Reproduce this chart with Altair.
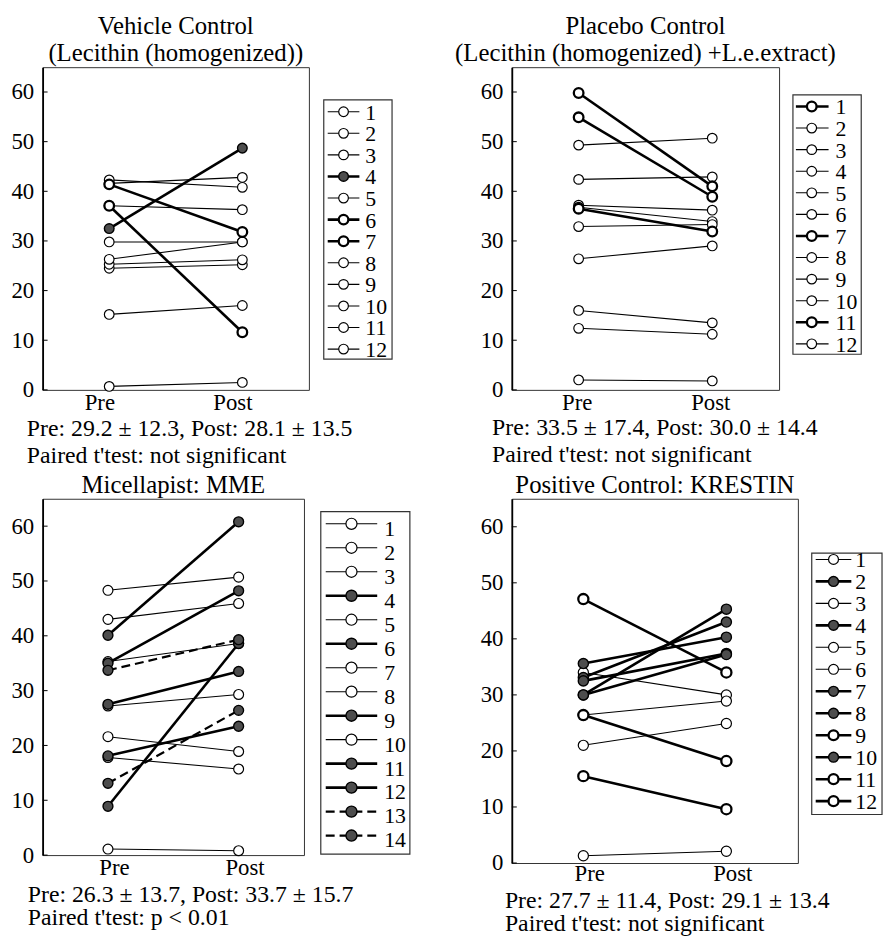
import altair as alt
import pandas as pd

FONT = "Liberation Serif"

# ---------------- data ----------------
YTICKS = [0, 10, 20, 30, 40, 50, 60]
STYLES = ["thin", "bold", "fill", "dash"]

p1_title = ["Vehicle Control", "(Lecithin (homogenized))"]
p1_pre = [0.7, 15.2, 24.5, 32.5, 25.3, 41.4, 37.1, 26.3, 29.8, 37.1, 41.6, 42.3]
p1_post = [1.5, 17.0, 25.2, 48.7, 26.2, 31.8, 11.6, 29.8, 29.8, 36.3, 42.8, 40.8]
p1_style = ["thin", "thin", "thin", "fill", "thin", "bold", "bold", "thin", "thin", "thin", "thin", "thin"]
p1_stats = ["Pre: 29.2 ± 12.3,  Post: 28.1 ± 13.5", "Paired t'test: not significant"]

p2_title = ["Placebo Control", "(Lecithin (homogenized) +L.e.extract)"]
p2_pre = [59.8, 49.3, 42.4, 37.2, 36.8, 32.9, 54.9, 26.4, 16.0, 12.4, 36.5, 2.0]
p2_post = [41.0, 50.7, 42.9, 36.2, 33.9, 33.3, 38.9, 29.0, 13.5, 11.2, 31.9, 1.8]
p2_style = ["bold", "thin", "thin", "thin", "thin", "thin", "bold", "thin", "thin", "thin", "bold", "thin"]
p2_stats = ["Pre: 33.5 ± 17.4, Post: 30.0 ± 14.4", "Paired t'test: not significant"]

p3_title = ["Micellapist: MME"]
p3_pre = [48.3, 43.0, 35.3, 40.1, 27.2, 35.0, 21.6, 17.8, 27.5, 1.1, 18.1, 8.9, 33.7, 13.1]
p3_post = [50.7, 45.9, 38.6, 60.8, 29.3, 48.2, 18.9, 15.7, 33.5, 0.8, 23.5, 38.6, 39.3, 26.4]
p3_style = ["thin", "thin", "thin", "fill", "thin", "fill", "thin", "thin", "fill", "thin",
            "fill", "fill", "dash", "dash"]
p3_stats = ["Pre: 26.3 ± 13.7, Post: 33.7 ± 15.7", "Paired t'test: p < 0.01"]

p4_title = ["Positive Control: KRESTIN"]
p4_pre = [1.3, 35.6, 34.0, 33.1, 21.0, 26.4, 32.5, 30.0, 47.1, 30.0, 26.4, 15.5]
p4_post = [2.1, 40.3, 30.0, 43.0, 24.9, 28.9, 37.4, 45.3, 34.0, 37.2, 18.2, 9.6]
p4_style = ["thin", "fill", "thin", "fill", "thin", "thin", "fill", "fill", "bold", "fill", "bold", "bold"]
p4_stats = ["Pre: 27.7 ± 11.4, Post: 29.1 ± 13.4", "Paired t'test: not significant"]

# ---------------- styles / layout ----------------
LINE_W = {"thin": 1.1, "bold": 2.6, "fill": 2.6, "dash": 2.2}
LINE_DASH = {"dash": [9, 5]}
PT_FILL = {"thin": "white", "bold": "white", "fill": "#4d4d4d", "dash": "#4d4d4d"}
PT_SW = {"thin": 1.2, "bold": 2.3, "fill": 1.4, "dash": 1.4}

L1 = dict(w=269, h=326, ldx=-10, lpad=2, ps=95, lps=95, box=(284, 353, 33, 295), sx1=288, sx2=320,
          cx=304, tx=326, ly0=45, lstep=21.8, tdy=1, stx=-16, s1=40, s2=67)
L2 = dict(w=270, h=326, ldx=-2, lpad=2, ps=95, lps=95, box=(284, 353, 28, 290), sx1=287, sx2=320,
          cx=303, tx=327, ly0=39.7, lstep=21.8, tdy=1, stx=-20, s1=39, s2=66)
L3 = dict(w=264, h=360, ldx=6, lpad=2, ps=100, lps=125, box=(281, 371, 13, 359), sx1=286, sx2=338,
          cx=312, tx=345, ly0=25.3, lstep=24.23, tdy=5, stx=-15, s1=40, s2=64)
L4 = dict(w=289, h=368, ldx=6, lpad=0, ps=105, lps=100, box=(303, 374, 55, 319), sx1=307, sx2=343,
          cx=325, tx=347, ly0=61.3, lstep=22.2, tdy=1, stx=-7, s1=38, s2=62)


def panel(title, pre, post, styles, stats, L):
    n = len(pre)
    ids = list(range(1, n + 1))
    df = pd.DataFrame({"id": ids * 2, "t": ["Pre"] * n + ["Post"] * n,
                       "v": pre + post, "style": styles * 2})
    leg = pd.DataFrame({"id": ids, "style": styles, "label": [str(i) for i in ids]})
    W, H = L["w"], L["h"]
    ydom = alt.Scale(domain=[0, 65], nice=False, zero=False)
    x = alt.X("t:N", scale=alt.Scale(type="point", domain=["Pre", "Post"], padding=0.5),
              axis=alt.Axis(title=None, labelAngle=0, ticks=False, domain=False,
                            labelPadding=L["lpad"], labelOffset=L["ldx"], labelFont=FONT,
                            labelFontSize=23, labelColor="black"))
    yax = alt.Axis(title=None, values=YTICKS, grid=False, ticks=False, labelPadding=9,
                   labelFont=FONT, labelFontSize=23, labelColor="black",
                   domainColor="black", domainWidth=1.8)
    lys = alt.Scale(domain=[1, n], range=[L["ly0"], L["ly0"] + (n - 1) * L["lstep"]])

    # inward ticks on the y axis (carry the axis itself)
    ticks = alt.Chart(pd.DataFrame({"tv": YTICKS})).mark_rule(color="black", strokeWidth=1).encode(
        y=alt.Y("tv:Q", scale=ydom, axis=yax), x=alt.value(0), x2=alt.value(5))

    present = [s for s in STYLES if s in styles]
    line_layers, pt_layers, lrule_layers, lpt_layers = [], [], [], []
    for s in present:
        lkw = dict(color="black", strokeWidth=LINE_W[s])
        if s in LINE_DASH:
            lkw["strokeDash"] = LINE_DASH[s]
        pkw = dict(shape="circle", filled=True, stroke="black", fill=PT_FILL[s],
                   strokeWidth=PT_SW[s], opacity=1)
        line_layers.append(
            alt.Chart(df).transform_filter(alt.datum.style == s).mark_line(**lkw).encode(
                x=x, y=alt.Y("v:Q", scale=ydom, axis=None), detail="id:N"))
        pt_layers.append(
            alt.Chart(df).transform_filter(alt.datum.style == s).mark_point(size=L["ps"], **pkw).encode(
                x=x, y=alt.Y("v:Q", scale=ydom, axis=None)))
        lrule_layers.append(
            alt.Chart(leg).transform_filter(alt.datum.style == s).mark_rule(**lkw).encode(
                y=alt.Y("id:Q", scale=lys, axis=None),
                x=alt.value(L["sx1"]), x2=alt.value(L["sx2"])))
        lpt_layers.append(
            alt.Chart(leg).transform_filter(alt.datum.style == s).mark_point(size=L["lps"], **pkw).encode(
                y=alt.Y("id:Q", scale=lys, axis=None), x=alt.value(L["cx"])))

    bx1, bx2, by1, by2 = L["box"]
    box = alt.Chart(pd.DataFrame({"k": [0]})).mark_rect(
        fill="white", fillOpacity=0, stroke="#333", strokeWidth=1.2).encode(
        x=alt.value(bx1), x2=alt.value(bx2), y=alt.value(by1), y2=alt.value(by2))

    ltxt = alt.Chart(leg).mark_text(align="left", baseline="middle", font=FONT, fontSize=22,
                                    dy=L["tdy"], color="black").encode(
        y=alt.Y("id:Q", scale=lys, axis=None), x=alt.value(L["tx"]), text="label:N")

    sdf = pd.DataFrame({"line": stats, "row": [0, 1]})
    stxt = alt.Chart(sdf).mark_text(align="left", baseline="middle", font=FONT, fontSize=24,
                                    color="black").encode(
        x=alt.value(L["stx"]),
        y=alt.Y("row:Q", scale=alt.Scale(domain=[0, 1], range=[H + L["s1"], H + L["s2"]]), axis=None),
        text="line:N")

    layers = [ticks] + line_layers + pt_layers + [box] + lrule_layers + lpt_layers + [ltxt, stxt]
    return alt.layer(*layers).resolve_scale(y="independent").properties(
        width=W, height=H,
        title=alt.TitleParams(text=title, font=FONT, fontSize=25, fontWeight="normal",
                              anchor="middle", offset=1, lineHeight=28, color="black"))


c1 = panel(p1_title, p1_pre, p1_post, p1_style, p1_stats, L1)
c2 = panel(p2_title, p2_pre, p2_post, p2_style, p2_stats, L2)
c3 = panel(p3_title, p3_pre, p3_post, p3_style, p3_stats, L3)
c4 = panel(p4_title, p4_pre, p4_post, p4_style, p4_stats, L4)

chart = alt.concat(c1, c2, c3, c4, columns=2, spacing={"row": 110, "column": 205},
                   bounds="flush", align="each").properties(
    padding={"left": 2, "top": 0, "right": 0, "bottom": 0}
).configure_view(stroke="#333", strokeWidth=1)

chart.save("out.html", embed_options={"renderer": "svg", "actions": False})
